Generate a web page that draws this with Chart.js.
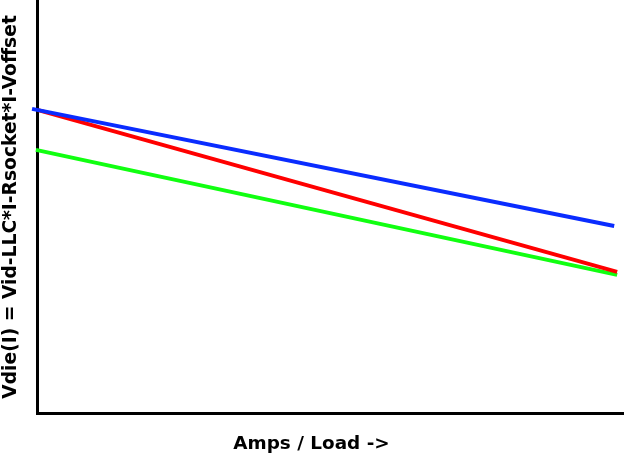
<!DOCTYPE html>
<html>
<head>
<meta charset="utf-8">
<script src="https://cdn.jsdelivr.net/npm/chart.js@4.4.1/dist/chart.umd.min.js"></script>
<style>
  html, body { margin: 0; padding: 0; background: #fff; }
  #wrap { width: 625px; height: 455px; }
</style>
</head>
<body>
<div id="wrap"><canvas id="loadLine"></canvas></div>
<script>
// load points (percent of full load) and Vdie readings (arbitrary units)
const blueLoad = [-0.85, 98.5];
const blueVdie = [73.7, 45.4];
const redLoad = [0.2, 99];
const redVdie = [73.4, 34.3];
const greenLoad = [-0.2, 99];
const greenVdie = [63.8, 33.6];

const xTitle = 'Amps / Load ->';
const yTitle = 'Vdie(I) = Vid-LLC*I-Rsocket*I-Voffset';

function toPoints(xs, ys) {
    return xs.map((x, i) => ({ x: x, y: ys[i] }));
}

new Chart(document.getElementById('loadLine').getContext('2d'), {
    type: 'line',
    data: {
        datasets: [
            { data: toPoints(blueLoad, blueVdie), borderColor: '#0a2cff' },
            { data: toPoints(redLoad, redVdie), borderColor: '#ff0000' },
            { data: toPoints(greenLoad, greenVdie), borderColor: '#11ff11' }
        ]
    },
    options: {
        responsive: true,
        maintainAspectRatio: false,
        animation: false,
        layout: { padding: { left: 0, right: 2, top: 0, bottom: 0 } },
        elements: {
            line: { borderWidth: 4, tension: 0, borderCapStyle: 'butt' },
            point: { radius: 0, hoverRadius: 0 }
        },
        datasets: { line: { clip: false } },
        scales: {
            x: {
                type: 'linear',
                min: 0,
                max: 100,
                grid: { display: false, drawTicks: false },
                ticks: { display: false },
                border: { display: true, color: '#000', width: 3 }
            },
            y: {
                type: 'linear',
                min: 0,
                max: 100,
                grid: { display: false, drawTicks: false },
                ticks: { display: false },
                border: { display: true, color: '#000', width: 3 },
                title: {
                    display: true,
                    text: yTitle,
                    color: '#000',
                    font: { family: 'DejaVu Sans', size: 18.7, weight: 'bold', lineHeight: 1.2 },
                    padding: { top: 0, bottom: 14.6 }
                }
            }
        },
        plugins: {
            legend: { display: false },
            tooltip: { enabled: false },
            title: {
                display: true,
                position: 'bottom',
                text: xTitle,
                color: '#000',
                font: { family: 'DejaVu Sans', size: 18.4, weight: 'bold', lineHeight: 1.2 },
                padding: { top: 19, bottom: 0 }
            }
        }
    }
});
</script>
</body>
</html>
